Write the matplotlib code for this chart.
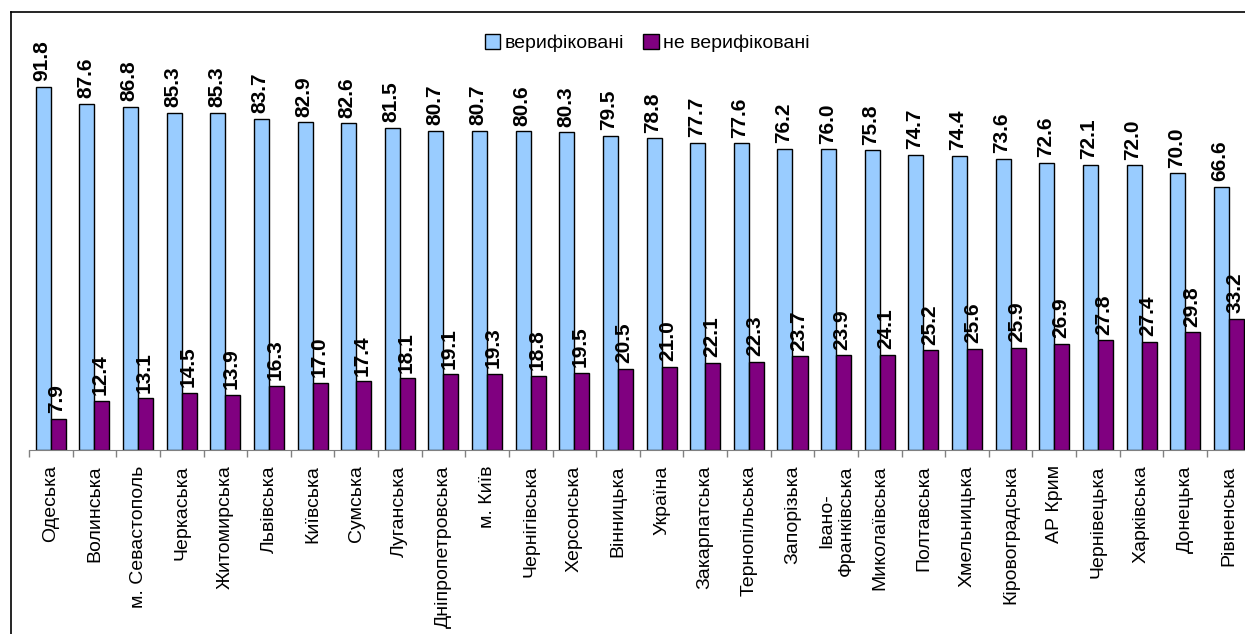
import numpy as np
import matplotlib
matplotlib.use('Agg')
import matplotlib.pyplot as plt
from matplotlib.patches import Patch
from matplotlib.lines import Line2D

plt.rcParams['font.family'] = ['Liberation Sans', 'DejaVu Sans']

regions = ['Одеська', 'Волинська', 'м. Севастополь', 'Черкаська', 'Житомирська',
           'Львівська', 'Київська', 'Сумська', 'Луганська', 'Дніпропетровська',
           'м. Київ', 'Чернігівська', 'Херсонська', 'Вінницька', 'Україна',
           'Закарпатська', 'Тернопільська', 'Запорізька', 'Івано-\nФранківська',
           'Миколаївська', 'Полтавська', 'Хмельницька', 'Кіровоградська', 'АР Крим',
           'Чернівецька', 'Харківська', 'Донецька', 'Рівненська']

verified = [91.8, 87.6, 86.8, 85.3, 85.3, 83.7, 82.9, 82.6, 81.5, 80.7,
            80.7, 80.6, 80.3, 79.5, 78.8, 77.7, 77.6, 76.2, 76.0, 75.8,
            74.7, 74.4, 73.6, 72.6, 72.1, 72.0, 70.0, 66.6]
not_verified = [7.9, 12.4, 13.1, 14.5, 13.9, 16.3, 17.0, 17.4, 18.1, 19.1,
                19.3, 18.8, 19.5, 20.5, 21.0, 22.1, 22.3, 23.7, 23.9, 24.1,
                25.2, 25.6, 25.9, 26.9, 27.8, 27.4, 29.8, 33.2]

series_names = ['верифіковані', 'не верифіковані']
c_blue = '#99CCFF'
c_purple = '#800080'

W, H = 1245, 634
fig = plt.figure(figsize=(W / 100, H / 100), dpi=100)

# axes placed in pixel terms of the reference
ax_left, ax_right = 29, 1250.6
ax_bottom, ax_top = 450, 15
ax = fig.add_axes([ax_left / W, 1 - ax_bottom / H,
                   (ax_right - ax_left) / W, (ax_bottom - ax_top) / H])

x = np.arange(len(regions))
bw = 0.344
b1 = ax.bar(x - bw / 2, verified, bw, color=c_blue, edgecolor='black', linewidth=1)
b2 = ax.bar(x + bw / 2, not_verified, bw, color=c_purple, edgecolor='black', linewidth=1)

for bars in (b1, b2):
    for r in bars:
        ax.annotate(f'{r.get_height():.1f}', (r.get_x() + r.get_width() / 2, r.get_height()),
                    xytext=(-1, 4), textcoords='offset points', rotation=90,
                    ha='center', va='bottom', fontsize=15, fontweight='bold')

ax.set_xlim(-0.5, len(regions) - 0.5)
ax.set_ylim(0, 110)
ax.set_yticks([])
for s in ('left', 'right', 'top'):
    ax.spines[s].set_visible(False)
ax.spines['bottom'].set_color('#808080')

ax.set_xticks(x)
ax.set_xticklabels(regions, rotation=90, fontsize=14, ma='center')
ax.tick_params(axis='x', which='major', length=0, pad=11)
ax.set_xticks(np.arange(len(regions) + 1) - 0.5, minor=True)
ax.tick_params(axis='x', which='minor', length=5, color='#808080', width=1)

handles = [Patch(facecolor=c_blue, edgecolor='black'),
           Patch(facecolor=c_purple, edgecolor='black')]
fig.legend(handles, series_names, loc='center', bbox_to_anchor=(647 / W, 1 - 43 / H),
           ncol=2, frameon=False, fontsize=14, handlelength=0.8, handleheight=0.8,
           handletextpad=0.2, columnspacing=1.0, borderpad=0)

# outer frame (left and top edges)
fig.add_artist(Line2D([10.5 / W, 10.5 / W], [0, 1 - 12 / H], color='black', lw=1.2,
                      transform=fig.transFigure))
fig.add_artist(Line2D([10.5 / W, 1], [1 - 12 / H, 1 - 12 / H], color='black', lw=1.2,
                      transform=fig.transFigure))

fig.savefig('out.png', dpi=100)
